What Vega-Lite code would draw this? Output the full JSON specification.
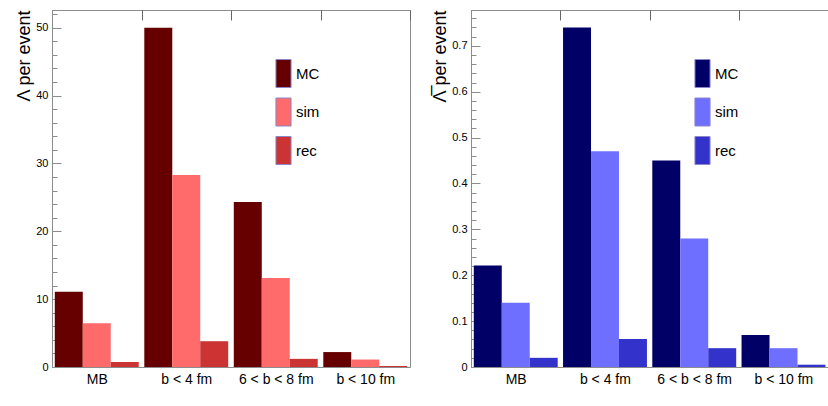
{
  "$schema": "https://vega.github.io/schema/vega-lite/v6.json",
  "background": "#ffffff",
  "padding": {"left": 15, "top": 9, "right": 2, "bottom": 0},
  "spacing": 20,
  "config": {
    "view": {"stroke": "#8c8c8c", "strokeWidth": 1},
    "font": "Liberation Sans"
  },
  "resolve": {"scale": {"color": "independent", "y": "independent"}, "legend": {"color": "independent"}},
  "datasets": {
    "rows": [
      {"panel": "L", "category": "MB", "series": "MC", "value": 11.1},
      {"panel": "L", "category": "MB", "series": "sim", "value": 6.45},
      {"panel": "L", "category": "MB", "series": "rec", "value": 0.74},
      {"panel": "L", "category": "b < 4 fm", "series": "MC", "value": 50.0},
      {"panel": "L", "category": "b < 4 fm", "series": "sim", "value": 28.3},
      {"panel": "L", "category": "b < 4 fm", "series": "rec", "value": 3.8},
      {"panel": "L", "category": "6 < b < 8 fm", "series": "MC", "value": 24.3},
      {"panel": "L", "category": "6 < b < 8 fm", "series": "sim", "value": 13.1},
      {"panel": "L", "category": "6 < b < 8 fm", "series": "rec", "value": 1.2},
      {"panel": "L", "category": "b < 10 fm", "series": "MC", "value": 2.2},
      {"panel": "L", "category": "b < 10 fm", "series": "sim", "value": 1.1},
      {"panel": "L", "category": "b < 10 fm", "series": "rec", "value": 0.15},
      {"panel": "R", "category": "MB", "series": "MC", "value": 0.221},
      {"panel": "R", "category": "MB", "series": "sim", "value": 0.14},
      {"panel": "R", "category": "MB", "series": "rec", "value": 0.02},
      {"panel": "R", "category": "b < 4 fm", "series": "MC", "value": 0.74},
      {"panel": "R", "category": "b < 4 fm", "series": "sim", "value": 0.47},
      {"panel": "R", "category": "b < 4 fm", "series": "rec", "value": 0.061},
      {"panel": "R", "category": "6 < b < 8 fm", "series": "MC", "value": 0.45},
      {"panel": "R", "category": "6 < b < 8 fm", "series": "sim", "value": 0.28},
      {"panel": "R", "category": "6 < b < 8 fm", "series": "rec", "value": 0.041},
      {"panel": "R", "category": "b < 10 fm", "series": "MC", "value": 0.07},
      {"panel": "R", "category": "b < 10 fm", "series": "sim", "value": 0.041},
      {"panel": "R", "category": "b < 10 fm", "series": "rec", "value": 0.005}
    ]
  },
  "hconcat": [
    {
      "width": 358,
      "height": 357,
      "data": {"name": "rows"},
      "transform": [{"filter": "datum.panel == 'L'"}],
      "mark": {"type": "bar"},
      "encoding": {
        "x": {
          "field": "category", "type": "nominal",
          "scale": {"domain": ["MB", "b < 4 fm", "6 < b < 8 fm", "b < 10 fm"], "paddingInner": 0, "paddingOuter": 0},
          "axis": {"title": null, "labelAngle": 0, "labelFontSize": 14, "labelColor": "#000000", "labelPadding": 5,
                   "ticks": false, "tickBand": "extent", "grid": true, "gridColor": "#666666", "gridDash": [10, 2000],
                   "domainColor": "#8c8c8c"}
        },
        "xOffset": {"field": "series", "type": "nominal", "scale": {"domain": ["MC", "sim", "rec"], "paddingInner": 0, "paddingOuter": 0.1}},
        "y": {
          "field": "value", "type": "quantitative",
          "scale": {"domain": [0, 52.6], "nice": false},
          "axis": {
            "title": "Λ per event", "titleAnchor": "end", "titleFontSize": 18, "titleFontWeight": "normal", "titleColor": "#000000", "titlePadding": 2,
            "values": [0,2,4,6,8,10,12,14,16,18,20,22,24,26,28,30,32,34,36,38,40,42,44,46,48,50,52],
            "labelExpr": "datum.value % 10 == 0 ? format(datum.value, 'd') : ''",
            "labelFontSize": 11, "labelColor": "#000000", "labelPadding": 4, "ticks": false,
            "domainColor": "#8c8c8c", "grid": true, "gridColor": "#8c8c8c",
            "gridDash": {"condition": {"test": "datum.value % 10 == 0", "value": [9, 2000]}, "value": [5, 2000]}
          }
        },
        "color": {
          "field": "series", "type": "nominal",
          "scale": {"domain": ["MC", "sim", "rec"], "range": ["#660000", "#ff6a6a", "#cc3333"]},
          "legend": {
            "orient": "none", "legendX": 217, "legendY": 49, "title": null, "padding": 0,
            "symbolType": "M-0.54,-1H0.54V1H-0.54Z", "symbolSize": 784,
            "symbolStrokeColor": "#8d86c9", "symbolStrokeWidth": 1, "symbolOpacity": 1,
            "labelFontSize": 15, "labelColor": "#000000", "labelOffset": -2, "rowPadding": 5.5
          }
        }
      }
    },
    {
      "width": 357,
      "height": 357,
      "data": {"name": "rows"},
      "transform": [{"filter": "datum.panel == 'R'"}],
      "mark": {"type": "bar"},
      "encoding": {
        "x": {
          "field": "category", "type": "nominal",
          "scale": {"domain": ["MB", "b < 4 fm", "6 < b < 8 fm", "b < 10 fm"], "paddingInner": 0, "paddingOuter": 0},
          "axis": {"title": null, "labelAngle": 0, "labelFontSize": 14, "labelColor": "#000000", "labelPadding": 5,
                   "ticks": false, "tickBand": "extent", "grid": true, "gridColor": "#666666", "gridDash": [10, 2000],
                   "domainColor": "#8c8c8c"}
        },
        "xOffset": {"field": "series", "type": "nominal", "scale": {"domain": ["MC", "sim", "rec"], "paddingInner": 0, "paddingOuter": 0.1}},
        "y": {
          "field": "value", "type": "quantitative",
          "scale": {"domain": [0, 0.778], "nice": false},
          "axis": {
            "title": "Λ̅ per event", "titleAnchor": "end", "titleFontSize": 18, "titleFontWeight": "normal", "titleColor": "#000000", "titlePadding": 2,
            "values": [0,0.02,0.04,0.06,0.08,0.1,0.12,0.14,0.16,0.18,0.2,0.22,0.24,0.26,0.28,0.3,0.32,0.34,0.36,0.38,0.4,0.42,0.44,0.46,0.48,0.5,0.52,0.54,0.56,0.58,0.6,0.62,0.64,0.66,0.68,0.7,0.72,0.74,0.76],
            "labelExpr": "abs(datum.value * 10 - round(datum.value * 10)) < 0.001 ? format(datum.value, '.1~f') : ''",
            "labelFontSize": 11, "labelColor": "#000000", "labelPadding": 4, "ticks": false,
            "domainColor": "#8c8c8c", "grid": true, "gridColor": "#8c8c8c",
            "gridDash": {"condition": {"test": "abs(datum.value * 10 - round(datum.value * 10)) < 0.001", "value": [9, 2000]}, "value": [5, 2000]}
          }
        },
        "color": {
          "field": "series", "type": "nominal",
          "scale": {"domain": ["MC", "sim", "rec"], "range": ["#000066", "#6f6fff", "#3333cc"]},
          "legend": {
            "orient": "none", "legendX": 217, "legendY": 49, "title": null, "padding": 0,
            "symbolType": "M-0.54,-1H0.54V1H-0.54Z", "symbolSize": 784,
            "symbolStrokeColor": "#8d86c9", "symbolStrokeWidth": 1, "symbolOpacity": 1,
            "labelFontSize": 15, "labelColor": "#000000", "labelOffset": -2, "rowPadding": 5.5
          }
        }
      }
    }
  ]
}
